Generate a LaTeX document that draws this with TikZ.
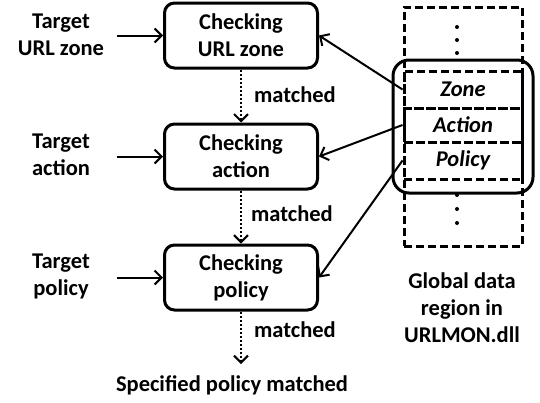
\documentclass[tikz,border=0pt]{standalone}
\usepackage{fontspec}
\setmainfont{Carlito}
\usetikzlibrary{arrows.meta}
\begin{document}
\begin{tikzpicture}[x=1pt,y=-1pt,
  font=\bfseries\fontsize{22.5}{27}\selectfont,
  chk/.style={draw,line width=3pt,rounded corners=10pt,minimum width=153pt,minimum height=65pt,align=center,inner sep=0pt},
  lbl/.style={align=center,inner sep=0pt},
  cell/.style={draw,line width=3pt,dash pattern=on 8pt off 4pt,minimum width=118pt,inner sep=0pt,font=\bfseries\itshape\fontsize{22.5}{27}\selectfont},
  arr/.style={line width=2pt,-{Straight Barb[length=7pt,width=14pt,line width=2pt]}},
  darr/.style={line width=2pt,dash pattern=on 2pt off 2pt,-{Straight Barb[length=7pt,width=14pt,line width=2pt]}},
  dotc/.style={circle,fill,inner sep=0pt,minimum size=4pt}
]
\useasboundingbox (0,0) rectangle (540,402);
% left checking boxes
\node[chk] (c1) at (241,35.5) {Checking\\URL zone};
\node[chk] (c2) at (241,156.5) {Checking\\action};
\node[chk] (c3) at (241,277.5) {Checking\\policy};
% target labels
\node[lbl] (t1) at (61,35) {Target\\URL zone};
\node[lbl] (t2) at (61,155) {Target\\action};
\node[lbl] (t3) at (61,276) {Target\\policy};
\coordinate (s1) at (117,35.5);
\coordinate (s2) at (117,156.5);
\coordinate (s3) at (117,277.5);
\draw[arr] (s1) -- (c1.west);
\draw[arr] (s2) -- (c2.west);
\draw[arr] (s3) -- (c3.west);
% dotted flow
\draw[darr] (c1.south) -- (c2.north);
\draw[darr] (c2.south) -- (c3.north);
\node[lbl] (sp) at (232,385) {Specified policy matched};
\coordinate (e3) at (241,364);
\draw[darr] (c3.south) -- (e3);
\node[lbl] (m1) at (295,95) {matched};
\node[lbl] (m2) at (292,214) {matched};
\node[lbl] (m3) at (295,330) {matched};
% global data region
\node[draw,line width=3pt,dash pattern=on 8pt off 4pt,minimum width=118pt,minimum height=239pt,inner sep=0pt] (g) at (463,126.5) {};
\node[cell,minimum height=37pt] (zone) at (463,89.5) {Zone};
\node[cell,minimum height=34pt] (action) at (463,125) {Action};
\node[cell,minimum height=37pt] (policy) at (463,160.5) {Policy};
\node[draw,line width=3pt,rounded corners=16pt,minimum width=140pt,minimum height=133pt,inner sep=0pt] (r) at (463,126.5) {};
\node[dotc] (d1) at (457,27) {};
\node[dotc] (d2) at (457,40) {};
\node[dotc] (d3) at (457,53) {};
\node[dotc] (d4) at (457,195) {};
\node[dotc] (d5) at (457,209) {};
\node[dotc] (d6) at (457,223) {};
\node[lbl] (gl) at (462,308) {Global data\\region in\\URLMON.dll};
% data arrows
\draw[arr] (zone.west) -- (c1.east);
\draw[arr] (action.west) -- (c2.east);
\draw[arr] (policy.west) -- (c3.east);
\end{tikzpicture}
\end{document}
